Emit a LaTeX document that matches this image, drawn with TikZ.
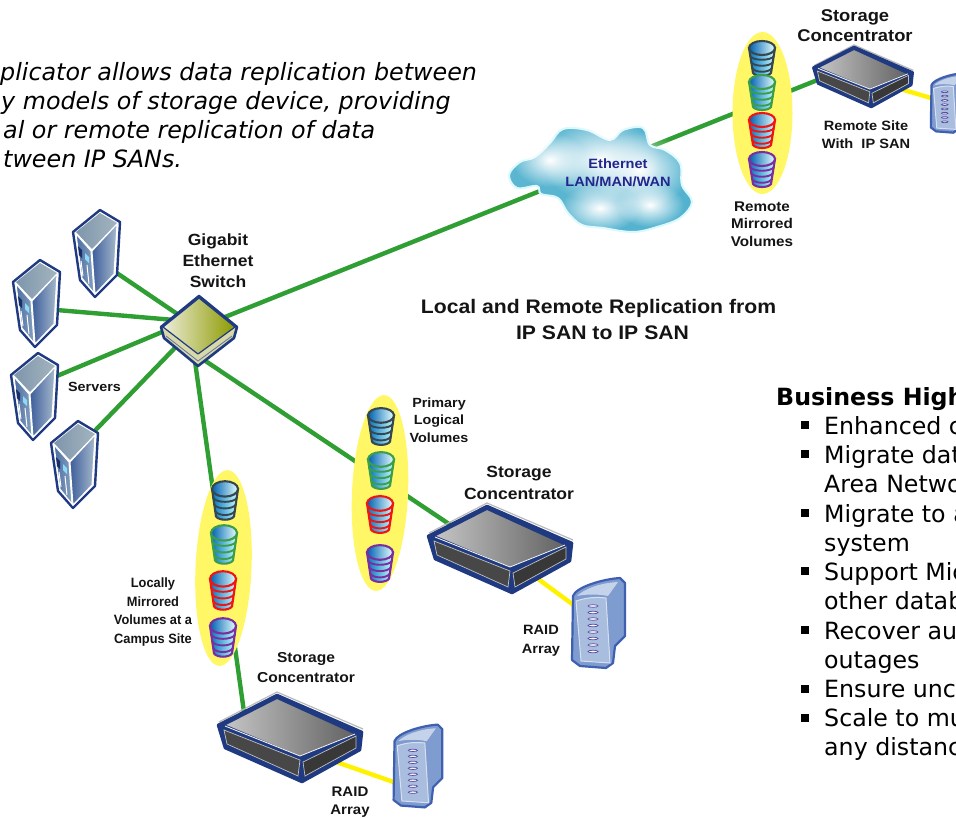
\documentclass[tikz,border=0pt]{standalone}
\usepackage{fontspec}
\setmainfont{Liberation Sans}
\newfontfamily\bodyfont{DejaVu Sans}
\newfontfamily\lblfont[FakeStretch=1.08]{Liberation Sans}
\newfontfamily\lblnarrow[FakeStretch=.95]{Liberation Sans}
\usetikzlibrary{fadings}
\definecolor{linkgreen}{HTML}{2F9E33}
\definecolor{navy}{HTML}{1F3A80}
\definecolor{cloudblue}{HTML}{3FA9C9}
\definecolor{txt}{HTML}{141414}
\definecolor{cloudtxt}{HTML}{23268C}
\definecolor{cDark}{HTML}{36474F}
\definecolor{cGreen}{HTML}{3C9E48}
\definecolor{cRed}{HTML}{F01414}
\definecolor{cPurple}{HTML}{7A2EA0}
\tikzfading[name=blob, inner color=transparent!0, outer color=transparent!100]
\tikzset{
 link/.style={draw=linkgreen,line width=4.4pt},
 sublink/.style={draw=yellow,line width=4.4pt},
 vol/.style={fill=yellow!60!white,draw=none},
 lbl/.style={font=\lblfont\bfseries\fontsize{#1}{#1}\selectfont,align=center,inner sep=0pt,text=txt},
 lbln/.style={font=\lblnarrow\bfseries\fontsize{#1}{#1}\selectfont,align=center,inner sep=0pt,text=txt},
 body/.style={font=\bodyfont\fontsize{23.7}{29}\selectfont,anchor=base west,inner sep=0pt,text=black},
 ital/.style={font=\bodyfont\itshape\fontsize{23.8}{29}\selectfont,anchor=base west,inner sep=0pt,text=black},
 bul/.style={fill=black,draw=none,inner sep=0pt,minimum size=7.5pt,rectangle},
 pics/cyl/.style={code={
  \path[left color=cyan!60!blue!75!black,right color=cyan!20!white,draw=#1,line width=2.1pt]
   (-13,-11) -- (-9,14) .. controls (-6,18) and (6,18) .. (9,14) -- (13,-11) -- cycle;
  \foreach \yy/\xx in {-3/12,3/11,9/10}{
   \draw[#1,line width=1.9pt] (-\xx,\yy) .. controls (-\xx+3,\yy+5) and (\xx-3,\yy+5) .. (\xx,\yy);}
  \path[left color=cyan!55!blue!70!black,right color=cyan!10!white,draw=#1,line width=2.1pt]
   (0,-11) ellipse (13 and 7);
 }},
 pics/server/.style={code={
  \path[draw=navy,line width=2.4pt,fill=white,line join=round]
    (3,-43)--(23,-31)--(20,22)--(-2,44)--(-17,27)--(-24,-21)--cycle;
  \path[left color=HTopL,right color=HTopR,draw=none]
    (3,-40)--(20,-30)--(-5,-4)--(-21,-21)--cycle;
  \path[left color=HRightL,right color=HRightR,draw=white,line width=1pt]
    (-5,-2)--(20,-29)--(17,21)--(-2,41)--cycle;
  \path[left color=HLeftL,right color=HLeftR,draw=white,line width=1pt]
    (-21,-19)--(-6,-2)--(-3,40)--(-15,25)--cycle;
  \fill[navy!80!black] (-19,-7)--(-15,-3)--(-15,5)--(-18,2)--cycle;
  \fill[cyan!45!white] (-12,0)--(-8,4)--(-8,10)--(-12,6)--cycle;
  \draw[white,line width=1pt] (-16,8)--(-14,23) (-10,12)--(-8,31);
 }},
 pics/conc/.style={code={
  \draw[gray!55,line width=1.2pt] (-71,-18)--(-13,-48)--(73,-11);
  \path[draw=navy,line width=2.6pt,fill=navy,line join=round]
    (-72,-15)--(-13,-45)--(72,-8)--(70,10)--(12,42)--(-65,8)--cycle;
  \path[fill=black!72,draw=gray!50,line width=.7pt]
    (-66,-10)--(10,20)--(8,36)--(-63,4)--cycle;
  \path[fill=black!78,draw=gray!50,line width=.7pt]
    (13,22)--(66,-4)--(66,8)--(15,36)--cycle;
  \path[left color=gray!45,right color=black!62,draw=navy,line width=1.8pt,line join=round]
    (-66,-15)--(-13,-42)--(66,-6)--(10,17)--cycle;
  \draw[white!85!gray,line width=.9pt] (-65,-14)--(10,16)--(65,-6);
 }},
 pics/raid/.style={code={
  \path[fill=RSide,draw=RLine,line width=2.2pt,line join=round]
    (-25,-27) .. controls (-22,-36) and (5,-44) .. (22,-45)--(27,-40)--(27,13)--(17,23)--(15,40)--(8,45)--(-18,43)--(-26,37)--cycle;
  \path[fill=RFront,draw=white!80!RLine,line width=1pt]
    (-22,-22) .. controls (-10,-26) and (0,-26) .. (8,-25)--(12,40)--(-17,38)--cycle;
  \path[fill=RCap,draw=none]
    (-21,-27) .. controls (-15,-33) and (0,-40) .. (20,-41)--(10,-27) .. controls (0,-29) and (-12,-29) .. (-21,-27);
  \foreach \yy in {-17,-10.5,-4,2.5,9,15.5,22,28.5}{
   \draw[RSlot,fill=white!85!RFront,line width=.7pt] (-5,\yy) ellipse (5 and 1.3);}
 }},
 pics/switchbox/.style={code={
  \path[draw=navy,line width=2.6pt,fill=SwSide,line join=round]
    (-38,-3)--(0,-34)--(38,-3)--(35,8)--(-1,36)--(-35,8)--cycle;
  \draw[navy!70,line width=.8pt] (-33,6)--(-1,31)--(33,6);
  \path[left color=SwL,right color=SwR,draw=navy,line width=1.2pt,line join=round]
    (-36,-3)--(0,-32)--(36,-3)--(-1,24)--cycle;
 }}
}
\definecolor{HTopL}{HTML}{7E96AC}
\definecolor{HTopR}{HTML}{A3B4BE}
\definecolor{HRightL}{HTML}{3F5F9C}
\definecolor{HRightR}{HTML}{A6B9CC}
\definecolor{HLeftL}{HTML}{4B6FA3}
\definecolor{HLeftR}{HTML}{86A0BE}
\definecolor{RSide}{HTML}{7E9CCF}
\definecolor{RFront}{HTML}{A9BEDF}
\definecolor{RCap}{HTML}{C4D3EA}
\definecolor{RLine}{HTML}{3F5FB0}
\definecolor{RSlot}{HTML}{5A4CA0}
\definecolor{SwL}{HTML}{EDEDD8}
\definecolor{SwR}{HTML}{8C9A00}
\definecolor{SwSide}{HTML}{D8D8A8}
\begin{document}
\begin{tikzpicture}[x=1pt,y=-1pt]
\useasboundingbox (0,0) rectangle (956,817);
\clip (0,0) rectangle (956,817);

% anchor points
\coordinate (s1) at (97,253);
\coordinate (s2) at (37,303);
\coordinate (s3) at (35,396);
\coordinate (s4) at (75,464);
\coordinate (sw) at (199,330);
\coordinate (swA) at (198,328);
\coordinate (swB) at (198,322);
\coordinate (swC) at (198,317);
\coordinate (swD) at (198,324);
\coordinate (swE) at (192,340);
\coordinate (swF) at (198,356);
\coordinate (swG) at (205,325);
\coordinate (cl) at (600,167);
\coordinate (cRem) at (863,78);
\coordinate (cRemLink) at (835,73);
\coordinate (cPri) at (500,551);
\coordinate (cLoc) at (290,740);
\coordinate (cLocLink) at (244,712);
\coordinate (cLocSub) at (325,758);
\coordinate (cPriLink) at (455,528);
\coordinate (rRem) at (948,103);
\coordinate (rPri) at (598,623);
\coordinate (rLoc) at (417.5,766);
\coordinate (rLocSub) at (405,786);
\coordinate (s1L) at (105,265);
\coordinate (s2L) at (45,309);
\coordinate (s3L) at (45,381);
\coordinate (s4L) at (85,441);

% connectors
\draw[link] (s1L) -- (swA);
\draw[link] (s2L) -- (swB);
\draw[link] (s3L) -- (swC);
\draw[link] (s4L) -- (swD);
\draw[link] (swE) -- (cLocLink);
\draw[link] (swF) -- (cPriLink);
\draw[link] (swG) -- (cl);
\draw[link] (cl) -- (cRemLink);
\draw[sublink] (cRem) -- (rRem);
\draw[sublink] (cPri) -- (rPri);
\draw[sublink] (cLocSub) -- (rLocSub);

% devices
\path (s1) pic {server};
\path (s2) pic {server};
\path (s3) pic {server};
\path (s4) pic {server};
\path (sw) pic {switchbox};

% cloud
\path[left color=cloudblue!85!white,right color=cloudblue!90!white,draw=blue!15!cyan!15!white,line width=2pt]
 plot[smooth cycle,tension=.6] coordinates {
 (509,175) (520,162) (535,157) (550,143) (563,129) (587,130) (610,140) (623,130)
 (643,128) (650,145) (665,150) (680,163) (682,185) (692,202) (680,218) (657,227)
 (633,232) (603,228) (582,225) (568,213) (558,198) (541,194) (537,186) (517,188)};
\fill[white,path fading=blob] (550,160) ellipse (38 and 27);
\fill[white,path fading=blob] (600,160) ellipse (60 and 42);
\fill[white,path fading=blob] (640,170) ellipse (50 and 38);
\fill[white,path fading=blob] (600,208) ellipse (40 and 24);
\fill[white,path fading=blob] (650,205) ellipse (34 and 22);

% volume groups
\path[vol] (762.5,113) ellipse (30 and 81);
\path[vol,rotate around={-2.5:(380,493)}] (380,493) ellipse (28 and 98);
\path[vol,rotate around={-2.5:(223.5,568)}] (223.5,568) ellipse (28 and 98);
\path (762,59) pic {cyl=cDark};
\path (762,93) pic {cyl=cGreen};
\path (762,131) pic {cyl=cRed};
\path (762,170) pic {cyl=cPurple};
\path (381,427) pic[yscale=1.05] {cyl=cDark};
\path (381,471) pic[yscale=1.05] {cyl=cGreen};
\path (380,515) pic[yscale=1.05] {cyl=cRed};
\path (380,564) pic[yscale=1.05] {cyl=cPurple};
\path (225,501) pic[yscale=1.1] {cyl=cDark};
\path (224,545) pic[yscale=1.1] {cyl=cGreen};
\path (223,591) pic[yscale=1.1] {cyl=cRed};
\path (223,638) pic[yscale=1.1] {cyl=cPurple};

% storage and arrays
\path (cRem) pic[scale=.69] {conc};
\path (cPri) pic {conc};
\path (cLoc) pic {conc};
\path (rRem) pic[scale=.66] {raid};
\path (rPri) pic {raid};
\path (rLoc) pic[scale=.92] {raid};

% labels
\node[lbl=17] (t1) at (855,26) {Storage\\[3pt]Concentrator};
\node[lbl=13.5] (t2) at (866,134.5) {Remote Site\\[4.5pt]With\ \ IP SAN};
\node[lbl=14.1] (t3) at (762,224) {Remote\\[3.4pt]Mirrored\\[3.4pt]Volumes};
\node[lbl=13.5,text=cloudtxt] (t4) at (618,172.5) {Ethernet\\[4.5pt]LAN/MAN/WAN};
\node[lbl=16.2] (t5) at (218,261) {Gigabit\\[4.8pt]Ethernet\\[4.8pt]Switch};
\node[lbl=13.3] (t6) at (94.5,387) {Servers};
\node[lbl=19.6] (t7) at (598.5,319) {Local and Remote Replication from\\[6.4pt]\hspace*{8pt}IP SAN to IP SAN};
\node[lbl=13.3] (t8) at (439,420) {Primary\\[4.2pt]Logical\\[4.2pt]Volumes};
\node[lbl=16.2] (t9) at (519,483) {Storage\\[5.3pt]Concentrator};
\node[lbl=13.5] (t10) at (541,641) {RAID\\[5.5pt]Array};
\node[lbln=13.5] (t11) at (153,612) {Locally\\[5pt]Mirrored\\[5pt]Volumes at a\\[5pt]Campus Site};
\node[lbl=14.4] (t12) at (306,668) {Storage\\[5.6pt]Concentrator};
\node[lbl=13.9] (t13) at (350,802) {RAID\\[4pt]Array};

% left paragraph
\node[ital] (p1) at (0,80) {plicator allows data replication between};
\node[ital] (p2) at (1,109) {y models of storage device, providing};
\node[ital] (p3) at (3,138) {al or remote replication of data};
\node[ital] (p4) at (3,167) {tween IP SANs.};

% right list
\node[body,font=\bodyfont\bfseries\fontsize{23.7}{29}\selectfont] (h) at (776,405) {Business High};
\foreach \yy in {425,454,513,571,630,689,718}{\node[bul] at (805,\yy) {};}
\node[body] (b1) at (824,434) {Enhanced c};
\node[body] (b2) at (824,463) {Migrate dat};
\node[body] (b3) at (824,492) {Area Netwo};
\node[body] (b4) at (824,522) {Migrate to a};
\node[body] (b5) at (824,551) {system};
\node[body] (b6) at (824,580) {Support Mic};
\node[body] (b7) at (824,609) {other datab};
\node[body] (b8) at (824,639) {Recover au};
\node[body] (b9) at (824,668) {outages};
\node[body] (b10) at (824,697) {Ensure unc};
\node[body] (b11) at (824,726) {Scale to mu};
\node[body] (b12) at (824,755) {any distanc};
\end{tikzpicture}
\end{document}
